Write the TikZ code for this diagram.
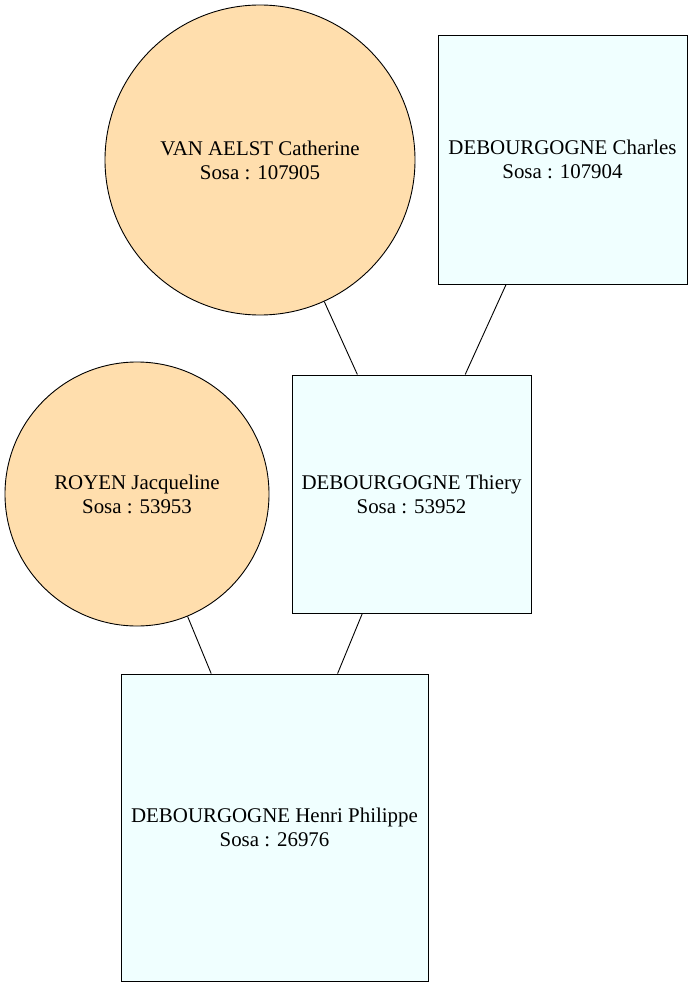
\documentclass[tikz,border=0pt]{standalone}
\usepackage{fontspec}
\setmainfont{Liberation Serif}
\usetikzlibrary{shapes.geometric}

\definecolor{femme}{RGB}{255,222,173}
\definecolor{homme}{RGB}{240,255,255}

\tikzset{
    person/.style={draw, line width=0.9pt, inner sep=0pt, align=center,
        font=\fontsize{20.9}{24}\selectfont},
    woman/.style={person, circle, fill=femme},
    man/.style={person, rectangle, fill=homme}
}

\begin{document}
\begin{tikzpicture}[x=1pt, y=-1pt]
    \useasboundingbox (0,0) rectangle (693,987);
    % Grandparents
    \node[woman, minimum size=310pt] (catherine) at (260,160) {VAN AELST Catherine\\Sosa : 107905};
    \node[man, minimum size=249pt] (charles) at (562.5,159.5) {DEBOURGOGNE Charles\\Sosa : 107904};
    % Parents
    \node[woman, minimum size=264pt] (jacqueline) at (137,494) {ROYEN Jacqueline\\Sosa : 53953};
    \node[man, minimum width=239pt, minimum height=238pt] (thiery) at (411.5,494) {DEBOURGOGNE Thiery\\Sosa : 53952};
    % Root
    \node[man, minimum size=307pt] (henri) at (274.5,827.5) {DEBOURGOGNE Henri Philippe\\Sosa : 26976};

    \draw[line width=0.9pt] (catherine) -- (thiery);
    \draw[line width=0.9pt] (charles) -- (thiery);
    \draw[line width=0.9pt] (jacqueline) -- (henri);
    \draw[line width=0.9pt] (thiery) -- (henri);
\end{tikzpicture}
\end{document}
